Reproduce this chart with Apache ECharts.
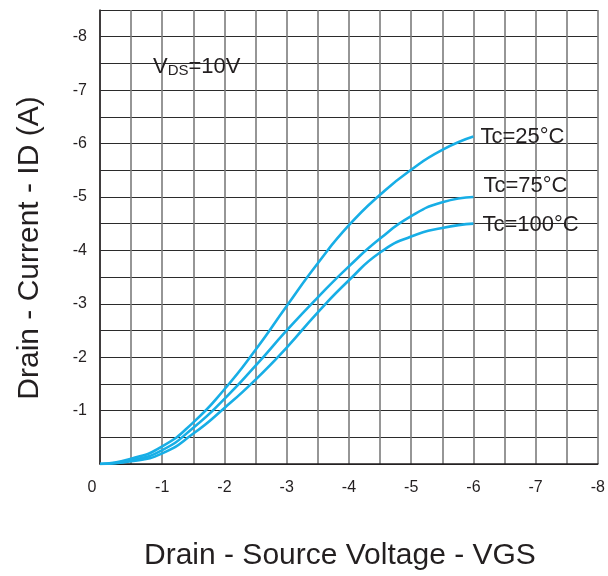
<!DOCTYPE html>
<html>
<head>
<meta charset="utf-8">
<script src="https://cdn.jsdelivr.net/npm/echarts@6/dist/echarts.min.js"></script>
<style>
html,body{margin:0;padding:0;background:#fff;}
#chart{width:608px;height:576px;}
</style>
</head>
<body>
<div id="chart"></div>
<script>
// Gate-source voltage (V) sample points
var vgs = [0, -0.5, -1, -1.5, -2, -2.5, -3, -3.5, -4, -4.5, -5, -5.5, -6];
// Drain current (A)
var id25  = [0, -0.1, -0.33, -0.78, -1.4, -2.14, -2.96, -3.76, -4.47, -5.04, -5.51, -5.88, -6.13];
var id75  = [0, -0.07, -0.26, -0.68, -1.22, -1.84, -2.5, -3.12, -3.7, -4.22, -4.64, -4.9, -5.0];
var id100 = [0, -0.05, -0.2, -0.57, -1.05, -1.58, -2.18, -2.84, -3.44, -3.96, -4.26, -4.42, -4.5];
var seriesNames = ['Tc=25°C', 'Tc=75°C', 'Tc=100°C'];
var seriesY = [id25, id75, id100];
var labelOffsets = [[14, 0], [17, -11], [16, 1]];

var chart = echarts.init(document.getElementById('chart'));
var font = 'Liberation Sans, Arial, sans-serif';

function pairs(ys) {
  return vgs.map(function (x, i) { return [x, ys[i]]; });
}

var series = seriesY.map(function (ys, k) {
  return {
    name: seriesNames[k],
    type: 'line',
    smooth: 0.55,
    showSymbol: false,
    data: pairs(ys),
    lineStyle: { color: '#17aee6', width: 2.6 },
    itemStyle: { color: '#17aee6' },
    endLabel: {
      show: true,
      formatter: '{a}',
      color: '#231f20',
      fontFamily: font,
      fontSize: 22,
      distance: 7,
      align: 'left',
      verticalAlign: 'middle',
      offset: labelOffsets[k]
    },
    z: 5
  };
});

chart.setOption({
  animation: false,
  backgroundColor: '#fff',
  title: {
    left: 148,
    top: 51,
    text: '{v|V}{s|DS}{v|=10V}',
    textStyle: {
      fontWeight: 'normal',
      rich: {
        v: { fontSize: 22, fontFamily: font, fontWeight: 'normal', color: '#231f20' },
        s: { fontSize: 15, fontFamily: font, fontWeight: 'normal', color: '#231f20', verticalAlign: 'bottom' }
      }
    }
  },
  grid: { left: 100, top: 10, width: 501, height: 458, containLabel: false },
  xAxis: {
    type: 'value',
    inverse: true,
    min: -8,
    max: 0,
    interval: 0.5,
    name: 'Drain - Source Voltage - VGS',
    nameLocation: 'middle',
    nameGap: 77,
    nameTextStyle: { fontFamily: font, fontSize: 30, color: '#231f20', padding: [0, 18, 0, 0] },
    axisLine: { show: true, onZero: false, lineStyle: { color: '#231f20', width: 1.5 } },
    axisTick: { show: false },
    axisLabel: {
      margin: 16,
      fontFamily: font,
      fontSize: 16,
      color: '#231f20',
      formatter: function (v) {
        if (v === 0) return '{z|0}';
        return Number.isInteger(v) ? String(v) : '';
      },
      rich: { z: { fontFamily: font, fontSize: 16, color: '#231f20', padding: [0, 16, 4, 0] } }
    },
    splitLine: { show: true, lineStyle: { color: '#7c7c7c', width: 1.6 } }
  },
  yAxis: {
    type: 'value',
    inverse: true,
    min: -8.5,
    max: 0,
    interval: 0.5,
    name: 'Drain - Current - ID (A)',
    nameLocation: 'middle',
    nameGap: 55,
    nameTextStyle: { fontFamily: font, fontSize: 30, color: '#231f20', padding: [0, 22, 0, 0] },
    axisLine: { show: true, onZero: false, lineStyle: { color: '#231f20', width: 1.5 } },
    axisTick: { show: false },
    axisLabel: {
      margin: 13,
      fontFamily: font,
      fontSize: 16,
      color: '#231f20',
      padding: [6, 0, 0, 0],
      formatter: function (v) {
        if (v === 0) return '';
        return Number.isInteger(v) ? String(v) : '';
      }
    },
    splitLine: { show: true, lineStyle: { color: '#2b2b2b', width: 1.2 } }
  },
  series: series
});
</script>
</body>
</html>
